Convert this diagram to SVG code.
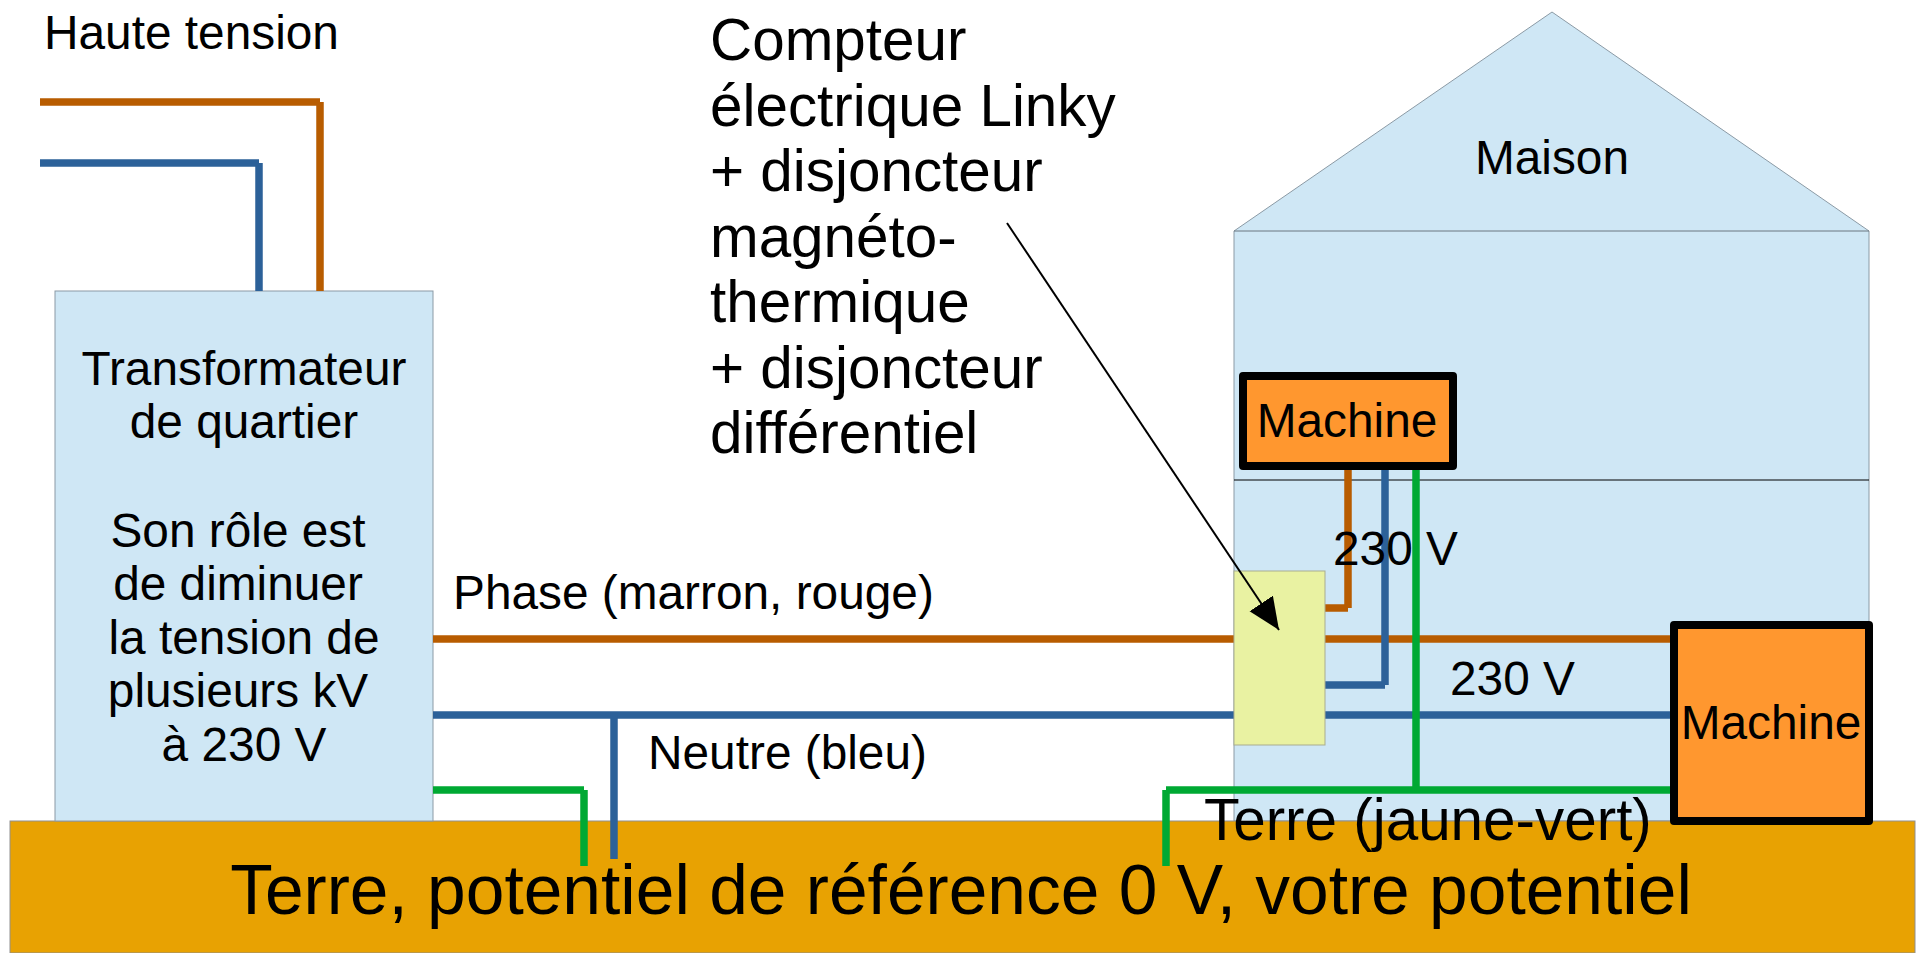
<svg xmlns="http://www.w3.org/2000/svg" width="1919" height="953" viewBox="0 0 1919 953">
<style>
text{font-family:"Liberation Sans",Arial,sans-serif;fill:#000}
.m{text-anchor:middle}
.t48{font-size:47.8px}
.t58{font-size:58.4px}
.t70{font-size:69.5px}
.box{fill:#cfe7f5;stroke:#8b9aa5;stroke-width:1}
.mach{fill:#ff972f;stroke:#000;stroke-width:8;stroke-linejoin:round}
.w{fill:none;stroke-width:7.5}
.br{stroke:#b85c00}.bl{stroke:#2c6199}.gr{stroke:#00a933}
</style>
<defs><marker id="arr" markerUnits="userSpaceOnUse" markerWidth="36" markerHeight="32" refX="32" refY="14" orient="auto"><path d="M0 0L32 14L0 28Z" fill="#000"/></marker></defs>
<g id="maison"><path class="box" d="M1234 231L1552 12L1869 231V821H1234Z"/><path d="M1234 231H1869" stroke="#6b7680" stroke-width="1"/><path d="M1234 480H1869" stroke="#000" stroke-width="1"/><text class="t48 m" x="1552" y="174">Maison</text></g>
<g id="terre"><rect x="10" y="821" width="1905" height="132" fill="#e8a202" stroke="#8f8f8f" stroke-width="1"/><text class="t70 m" x="961" y="914">Terre, potentiel de référence 0 V, votre potentiel</text></g>
<g id="transformateur"><rect class="box" x="55" y="291" width="378" height="530"/>
<text class="t48 m" x="244" y="385">Transformateur</text><text class="t48 m" x="244" y="438">de quartier</text><text class="t48 m" x="238" y="547">Son rôle est</text><text class="t48 m" x="238" y="600">de diminuer</text><text class="t48 m" x="244" y="654">la tension de</text><text class="t48 m" x="238" y="707">plusieurs kV</text><text class="t48 m" x="244" y="761">à 230 V</text></g>
<g id="connecteurs">
<path class="w br" d="M40 102H320M320 102V291"/><path class="w bl" d="M40 163H259M259 163V291"/>
<path class="w br" d="M433 639H1673"/><path class="w bl" d="M433 715H1673"/><path class="w bl" d="M614 715V859"/>
<path class="w gr" d="M433 790H584M584 790V866"/>
<path class="w br" d="M1325 608H1348M1348 608V466"/><path class="w bl" d="M1325 685H1385M1385 685V466"/>
<path class="w gr" d="M1416 466V790"/><path class="w gr" d="M1672 790H1166M1166 790V866"/>
</g>
<g id="compteur"><rect x="1234" y="571" width="91" height="174" fill="#e9f2a2" stroke="#a9ad8f" stroke-width="1"/></g>
<g id="machine1"><rect class="mach" x="1243" y="376" width="210" height="90"/><text class="t48 m" x="1347" y="437">Machine</text></g>
<g id="machine2"><rect class="mach" x="1674" y="625" width="195" height="196"/><text class="t48 m" x="1771" y="739">Machine</text></g>
<g id="fleche"><path d="M1007 223L1279 630" stroke="#000" stroke-width="2" fill="none" marker-end="url(#arr)"/></g>
<g id="textes">
<text class="t48" x="44" y="49">Haute tension</text>
<text class="t58"><tspan x="710" y="60">Compteur</tspan><tspan x="710" y="126">électrique Linky</tspan><tspan x="710" y="191">+ disjoncteur</tspan><tspan x="710" y="257">magnéto-</tspan><tspan x="710" y="322">thermique</tspan><tspan x="710" y="388">+ disjoncteur</tspan><tspan x="710" y="453">différentiel</tspan></text>
<text class="t48" x="453" y="609">Phase (marron, rouge)</text>
<text class="t48" x="648" y="769">Neutre (bleu)</text>
<text class="t48" x="1333" y="565">230 V</text><text class="t48" x="1450" y="695">230 V</text>
<text class="t58" x="1204" y="840">Terre (jaune-vert)</text>
</g>
</svg>
